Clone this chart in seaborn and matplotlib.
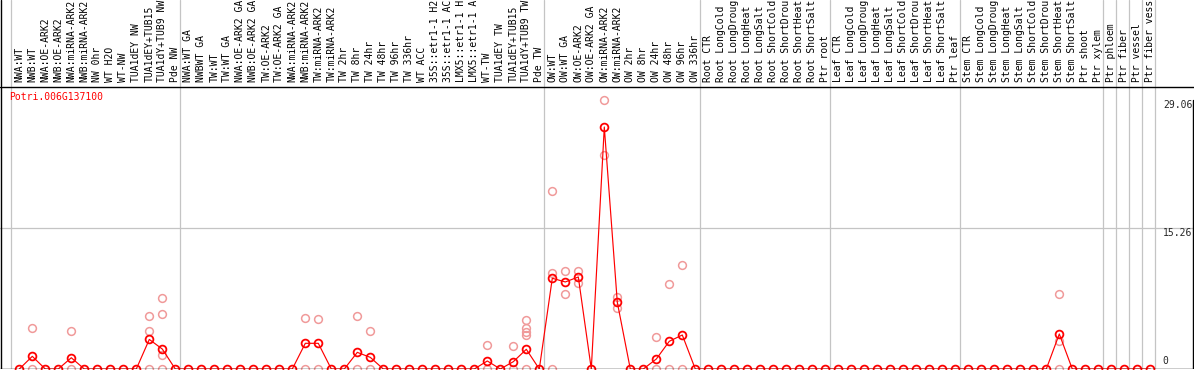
import numpy as np
import pandas as pd
import matplotlib
matplotlib.use("Agg")
import matplotlib.pyplot as plt
import seaborn as sns
from matplotlib.transforms import blended_transform_factory

# ---------------- data ----------------
gene_id = "Potri.006G137100"

categories = [
    "NWA:WT", "NWB:WT", "NWA:OE-ARK2", "NWB:OE-ARK2", "NWA:miRNA-ARK2",
    "NWB:miRNA-ARK2", "NW 0hr", "WT H2O", "WT-NW", "TUA1dEY NW",
    "TUA1dEY+TUB15", "TUA1dY+TUB9 NW", "Pde NW",
    "NWA:WT GA", "NWBWT GA", "TW:WT", "TW:WT GA", "NWA:OE-ARK2 GA",
    "NWB:OE-ARK2 GA", "TW:OE-ARK2", "TW:OE-ARK2 GA", "NWA:miRNA-ARK2",
    "NWB:miRNA-ARK2", "TW:miRNA-ARK2", "TW:miRNA-ARK2", "TW 2hr", "TW 8hr",
    "TW 24hr", "TW 48hr", "TW 96hr", "TW 336hr", "WT ACC", "35S::etr1-1 H2",
    "35S::etr1-1 AC", "LMX5::etr1-1 H", "LMX5::etr1-1 A", "WT-TW",
    "TUA1dEY TW", "TUA1dEY+TUB15", "TUA1dY+TUB9 TW", "Pde TW",
    "OW:WT", "OW:WT GA", "OW:OE-ARK2", "OW:OE-ARK2 GA", "OW:miRNA-ARK2",
    "OW:miRNA-ARK2", "OW 2hr", "OW 8hr", "OW 24hr", "OW 48hr", "OW 96hr",
    "OW 336hr",
    "Root CTR", "Root LongCold", "Root LongDroug", "Root LongHeat",
    "Root LongSalt", "Root ShortCold", "Root ShortDrou", "Root ShortHeat",
    "Root ShortSalt", "Ptr root",
    "Leaf CTR", "Leaf LongCold", "Leaf LongDroug", "Leaf LongHeat",
    "Leaf LongSalt", "Leaf ShortCold", "Leaf ShortDrou", "Leaf ShortHeat",
    "Leaf ShortSalt", "Ptr leaf",
    "Stem CTR", "Stem LongCold", "Stem LongDroug", "Stem LongHeat",
    "Stem LongSalt", "Stem ShortCold", "Stem ShortDrou", "Stem ShortHeat",
    "Stem ShortSalt", "Ptr shoot", "Ptr xylem",
    "Ptr phloem", "Ptr fiber", "Ptr vessel", "Ptr fiber vess",
]

group_sizes = [13, 28, 12, 10, 10, 11, 1, 1, 1, 1]

mean_values = [
    0, 1.37, 0, 0, 1.22, 0, 0, 0, 0, 0, 3.20, 2.16, 0,
    0, 0, 0, 0, 0, 0, 0, 0, 0, 2.78, 2.78, 0, 0, 1.80, 1.26,
    0, 0, 0, 0, 0, 0, 0, 0, 0.87, 0, 0.79, 2.13, 0,
    9.82, 9.42, 9.96, 0, 26.19, 7.22, 0, 0, 1.08, 3.00, 3.68, 0,
    0, 0, 0, 0, 0, 0, 0, 0, 0, 0,
    0, 0, 0, 0, 0, 0, 0, 0, 0, 0,
    0, 0, 0, 0, 0, 0, 0, 3.79, 0, 0, 0,
    0, 0, 0, 0,
]

rep_index = [1, 1, 4, 4, 10, 10, 10, 11, 11, 11, 11,
             22, 22, 23, 23, 26, 26, 27, 27, 36, 36, 38, 38,
             39, 39, 39, 39, 39, 41, 41, 41, 42, 42, 43, 43,
             45, 45, 46, 46, 49, 49, 50, 50, 51, 51, 80, 80, 80]
rep_values = [4.40, 0, 4.10, 0, 5.70, 4.10, 0, 7.65, 6.00, 1.55, 0,
              5.55, 0, 5.38, 0, 5.74, 0, 4.08, 0, 2.60, 0, 2.49, 0,
              5.27, 4.40, 4.04, 3.68, 0, 19.27, 10.42, 0, 10.60, 8.08, 10.60, 9.34,
              29.06, 23.16, 7.83, 6.64, 3.43, 0, 9.16, 0, 11.26, 0, 8.08, 3.06, 0]

y_tick_values = [0, 15.26, 29.06]

# ---------------- style ----------------
sns.set_style("white")
plt.rcParams["font.family"] = ["DejaVu Sans Mono", "DejaVu Sans"]

RED = "#ff0000"
PALE = "#f09a9a"
GRID = "#c4c4c4"
FS = 7

W, H = 1194, 370
fig = plt.figure(figsize=(W / 100, H / 100), dpi=100)
top_px, bottom_px = 86, 369
ax = fig.add_axes([0, (H - bottom_px) / H, 1, (bottom_px - top_px) / H])
lab = fig.add_axes([0, (H - top_px) / H, 1, top_px / H])

# x scale: first category centre at 19.3 px, 13 px per category
x0_px, step_px = 19.3, 13.0
xlim = ((0 - x0_px) / step_px, (W - x0_px) / step_px)
# y scale: 15.26 gridline sits 141 px above the baseline
ppu = (bottom_px - 228) / y_tick_values[1]
ymax = (bottom_px - top_px) / ppu

for a in (ax, lab):
    a.set_xlim(*xlim)
    a.set_xticks([])
    a.set_yticks([])
    a.set_facecolor("white")
    for sp in a.spines.values():
        sp.set_visible(False)
ax.set_ylim(0, ymax)
lab.set_ylim(0, 1)

# group separators
bounds = np.cumsum(group_sizes)
seps = [-0.62] + [b - 0.62 for b in bounds]
for s in seps:
    ax.axvline(s, color=GRID, lw=0.9, zorder=1)
    lab.axvline(s, color=GRID, lw=0.9, zorder=1)

ax.axhline(y_tick_values[1], color=GRID, lw=0.9, zorder=1)

# replicates (pale)
df_rep = pd.DataFrame({"x": rep_index, "y": rep_values})
sns.lineplot(data=df_rep, x="x", y="y", estimator=None, sort=False,
             linestyle="", marker="o", markersize=5.6,
             markerfacecolor="none", markeredgecolor=PALE,
             markeredgewidth=1.1, color=PALE, ax=ax, zorder=2)

# means (red line + circles)
df_mean = pd.DataFrame({"x": np.arange(len(categories)), "y": mean_values})
sns.lineplot(data=df_mean, x="x", y="y", estimator=None, sort=False,
             color=RED, linewidth=0.85, marker="o", markersize=5.6,
             markerfacecolor="none", markeredgecolor=RED,
             markeredgewidth=1.3, ax=ax, zorder=3)
ax.set_xlabel("")
ax.set_ylabel("")
ax.set_xticks([])
ax.set_yticks([])

# frame lines
left_x = xlim[0] + 0.6 / step_px
right_x = xlim[1] - 1.0 / step_px
ax.axvline(left_x, color="black", lw=1.0, zorder=5)
lab.axvline(left_x, color="black", lw=1.0, zorder=5)
ax.axvline(right_x, ymin=0, ymax=y_tick_values[2] / ymax, color="black",
           lw=1.0, zorder=5)
ax.axhline(ymax - 0.6 / ppu, color="black", lw=1.0, zorder=5)
ax.axhline(0.5 / ppu, color="black", lw=1.0, zorder=5)

# category labels
tr = blended_transform_factory(lab.transData, lab.transAxes)
for i, c in enumerate(categories):
    lab.text(i, 4 / top_px, c, rotation=90, ha="center", va="bottom",
             fontsize=FS, color="black", transform=tr)

# gene id
ax.text(9 / W, (bottom_px - 97) / (bottom_px - top_px), gene_id, color=RED,
        fontsize=FS, ha="left", va="center", transform=ax.transAxes)

# value labels on the right
ytr = blended_transform_factory(ax.transAxes, ax.transData)
ax.text(1 - 1.5 / W, y_tick_values[2], f"{y_tick_values[2]:.2f}", ha="right",
        va="top", fontsize=FS, transform=ytr)
ax.text(1 - 1.5 / W, y_tick_values[1], f"{y_tick_values[1]:.2f}", ha="right",
        va="top", fontsize=FS, transform=ytr)
ax.text(1162 / W, y_tick_values[0] + 2.5 / ppu, f"{y_tick_values[0]:g}",
        ha="left", va="bottom", fontsize=FS, transform=ytr)

fig.savefig("out.png", dpi=100)
